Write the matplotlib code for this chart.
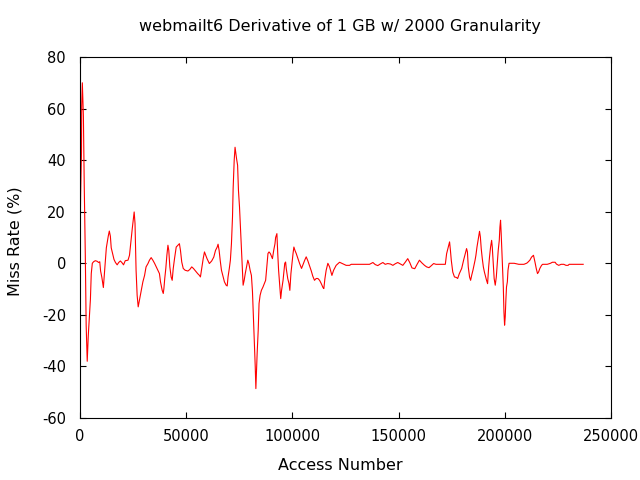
import matplotlib
matplotlib.use("Agg")
import matplotlib.pyplot as plt

access = [
    0, 300, 700, 800, 1100, 1600, 2000, 2500, 2900, 3400,
    3900, 4400, 4900, 5300, 5800, 6400, 7200, 8000, 8800, 9300,
    9700, 10300, 11000, 11600, 12000, 12400, 13300, 13800, 14300, 14700,
    15400, 16000, 16700, 17500, 18200, 19000, 19700, 20500, 21300, 22600,
    23300, 24100, 24600, 25200, 25500, 25900, 26400, 26900, 27400, 28000,
    28800, 29600, 30400, 31100, 32000, 32700, 33500, 34300, 35100, 35900,
    36700, 37400, 37900, 38700, 39200, 39500, 39900, 40400, 40900, 41400,
    41800, 42300, 42900, 43400, 43900, 44500, 45300, 46100, 46800, 47300,
    47900, 48600, 49500, 50800, 51700, 52600, 53400, 54400, 55400, 56240,
    56700, 57300, 58000, 58600, 59200, 59800, 60900, 62000, 62980, 63800,
    64600, 65000, 65500, 66000, 66600, 67400, 68000, 68800, 69300, 69700,
    70300, 70800, 71300, 71800, 72100, 72600, 73000, 73400, 73700, 74200,
    74600, 75100, 75600, 76100, 76500, 76800, 77300, 77800, 78400, 79000,
    79500, 80100, 80700, 81200, 81700, 82200, 82500, 82800, 83100, 83400,
    83900, 84300, 84800, 85400, 86150, 86800, 87400, 87900, 88500, 89000,
    89600, 90600, 91200, 91800, 92100, 92700, 93100, 93500, 94500, 94900,
    95600, 95900, 96400, 96800, 97100, 97800, 98400, 98800, 99300, 99800,
    100300, 100700, 101200, 101800, 102600, 103400, 104300, 105000, 105800, 106500,
    107300, 108100, 108900, 109600, 110400, 111200, 112000, 112800, 113600, 114400,
    114800, 115300, 115900, 116700, 117500, 118600, 119400, 120600, 122200, 123700,
    125300, 126900, 127700, 136300, 137900, 139000, 140200, 141300, 142600, 143700,
    144900, 146200, 147300, 148400, 149600, 150900, 152000, 153200, 154300, 155300,
    156300, 157600, 158700, 159800, 160900, 162200, 163200, 164300, 165300, 166500,
    167600, 172000, 172600, 173400, 174000, 174400, 174800, 175500, 176300, 177200,
    177800, 178600, 179700, 180600, 181400, 182000, 182400, 182800, 183400, 183900,
    184400, 185000, 185500, 186000, 186400, 186900, 187400, 187800, 188100, 188500,
    188900, 189400, 189900, 190400, 191000, 191400, 191900, 192400, 192800, 193300,
    193800, 194100, 194600, 195000, 195500, 196000, 196500, 196900, 197400, 197700,
    198000, 198300, 198800, 199300, 199600, 199900, 200200, 200500, 200800, 201200,
    201500, 202000, 204400, 206600, 209000, 210200, 210600, 211800, 212600, 213500,
    214200, 214800, 215400, 215900, 216500, 217300, 217800, 220000, 221500, 222400,
    223700, 224300, 225400, 226500, 227800, 228800, 229800, 230300, 236900,
]
miss_rate = [
    8.6, 26.6, 43, 61, 70, 57, 30, 3, -24, -38,
    -28, -21, -14, -4, 0, 0.6, 1, 0.8, 0.3, 0.6,
    -3, -5.5, -9.4, -3, 1.5, 6, 10.5, 12.5, 10.5, 6,
    3.5, 1.5, 0.3, -0.6, 0.3, 0.9, 0.3, -0.6, 1, 1.2,
    3.1, 9.6, 13.4, 18, 19.9, 15.5, -2.7, -12.4, -16.9, -14.3,
    -11, -7.2, -4.7, -1.4, -0.1, 1.2, 2.2, 1.2, 0, -1.4,
    -2.7, -4, -7.2, -10.5, -11.7, -9.8, -5.9, -2, 3.1, 7,
    5, -1.4, -5.3, -6.6, -2, 1.8, 6.3, 7, 7.6, 5,
    0.5, -2, -2.7, -3, -2.4, -1.4, -2, -3, -4, -4.7,
    -5.3, -2, 1.8, 4.4, 3.1, 1.8, -0.1, 0.9, 2.4, 5,
    6.3, 7.4, 5, 1.2, -2.7, -5.3, -7.2, -8.5, -8.8, -5.3,
    -2, 1.2, 7.6, 18, 29, 40, 45, 42.5, 40.6, 38,
    28.3, 21.8, 12.8, 3.8, -4, -8.5, -6.6, -4, -1.4, 1.2,
    -0.1, -2.7, -4.7, -11, -22, -32, -40, -48.6, -41.5, -35,
    -26, -15.6, -12.4, -10.5, -9.2, -7.9, -6.6, -2, 3.8, 4.4,
    3.8, 1.8, 5, 7.6, 10, 11.5, 3.8, -2.7, -13.7, -10.5,
    -6.6, -4, 0, 0.5, -2, -5.9, -7.9, -10.5, -4, 0,
    3.8, 6.3, 5, 3.8, 1.8, -0.1, -2, -0.5, 1.2, 2.5,
    0.9, -1, -3, -5, -6.6, -5.9, -5.9, -6.6, -7.9, -9.4,
    -9.8, -6, -2.7, 0, -1.4, -4.7, -2.7, -0.8, 0.4, -0.2,
    -0.8, -0.8, -0.4, -0.4, 0.3, -0.5, -0.9, -0.3, 0.3, -0.4,
    -0.1, -0.3, -0.8, -0.2, 0.3, -0.3, -0.8, 0.5, 1.8, 0.2,
    -1.8, -2.1, -0.4, 1.2, 0.2, -0.8, -1.4, -1.7, -1, -0.1,
    -0.4, -0.4, 3.7, 6.3, 8.3, 5, 1.2, -3.4, -5.3, -5.5,
    -5.9, -4, -2, 1.2, 3.7, 5.7, 4.4, -1.4, -5.3, -6.6,
    -4.7, -2.7, -0.8, 1.2, 3.1, 6.3, 8.9, 10.9, 12.4, 10.2,
    5.7, 1.8, -1.4, -3.4, -5.3, -6.6, -7.9, -1.4, 2.4, 6.3,
    8.9, 6.3, -0.8, -6, -8.5, -5.3, 0.5, 5, 8.9, 14,
    16.7, 11.5, 1.2, -9.2, -18.9, -24, -20.8, -14.3, -9.2, -7.2,
    -2.7, 0, 0, -0.4, -0.4, 0, 0.2, 1.2, 2.4, 3.1,
    0.5, -2, -4, -3.4, -2, -0.8, -0.4, -0.4, 0, 0.4,
    0.4, -0.3, -0.8, -0.4, -0.4, -0.8, -0.8, -0.4, -0.4,
]

x_ticks = [0, 50000, 100000, 150000, 200000, 250000]
y_ticks = [-60, -40, -20, 0, 20, 40, 60, 80]

plt.rcParams['font.family'] = ['DejaVu Sans']
plt.rcParams['axes.unicode_minus'] = False
fig = plt.figure(figsize=(6.4, 4.8), dpi=100)
ax = fig.add_axes([80 / 640, 1 - 418 / 480, 531 / 640, 361 / 480])

ax.plot(access, miss_rate, color='red', linewidth=0.8)

ax.set_xlim(0, 250000)
ax.set_ylim(-60, 80)
ax.set_xticks(x_ticks)
ax.set_yticks(y_ticks)
ax.tick_params(direction='in', length=4, width=0.8, top=True, right=True, labelsize=10.5)
ax.tick_params(axis='x', pad=8)
ax.tick_params(axis='y', pad=10)
for s in ax.spines.values():
    s.set_linewidth(0.8)

fig.text(340 / 640, 1 - 27 / 480, "webmailt6 Derivative of 1 GB w/ 2000 Granularity",
         fontsize=11.5, ha='center', va='center')
ax.set_xlabel("Access Number", fontsize=11.5)
ax.set_ylabel("Miss Rate (%)", fontsize=11.5)
ax.xaxis.set_label_coords((340 - 80) / 531, (418 - 465) / 361)
ax.yaxis.set_label_coords((15 - 80) / 531, 0.49)
ax.xaxis.label.set_va('center')
ax.yaxis.label.set_va('center')

fig.savefig("out.png", dpi=100)
